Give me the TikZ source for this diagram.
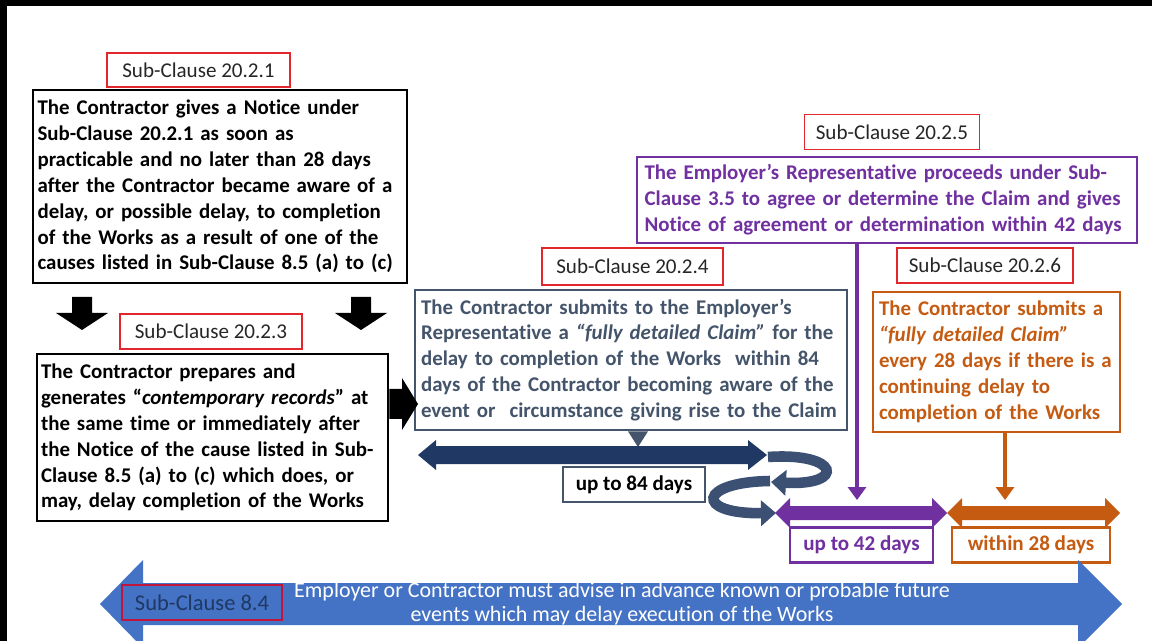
\documentclass[tikz,border=0pt]{standalone}
\usepackage{fontspec}
\setmainfont{Carlito}[Ligatures=NoCommon]
\usetikzlibrary{arrows.meta,calc}

\definecolor{slate}{HTML}{44546A}
\definecolor{navy}{HTML}{203864}
\definecolor{loopc}{HTML}{3B5072}
\definecolor{purp}{HTML}{7030A0}
\definecolor{orng}{HTML}{C55A11}
\definecolor{blu}{HTML}{4472C4}
\definecolor{redl}{HTML}{E3262B}
\definecolor{crim}{HTML}{C0143C}
\definecolor{navytext}{HTML}{1F3864}

\begin{document}
\begin{tikzpicture}[x=0.02cm, y=-0.02cm,
  every node/.style={inner sep=0pt},
  clause/.style={draw=redl, line width=1.1pt, fill=white, text=black!85,
    font=\fontsize{12}{14}\selectfont},
  body/.style={line width=1.6pt, align=left, fill=white,
    font=\bfseries\fontsize{11.9}{14.75}\selectfont},
  days/.style={line width=1.3pt, fill=white,
    font=\bfseries\fontsize{12}{14}\selectfont},
  loop/.style={draw=loopc, line width=6pt,
    -{Triangle[width=0.5cm,length=0.3cm]}},
  vline/.style={line width=2.8pt, -{Triangle[width=0.36cm,length=0.26cm]}},
]
\useasboundingbox (0,0) rectangle (1152,641);
\clip (0,0) rectangle (1152,641);
\fill[white] (0,0) rectangle (1152,641);
\fill[black] (0,0) rectangle (1152,6);
\fill[black] (0,0) rectangle (7,641);

% ---- Notice (20.2.1)
\node[clause, minimum width=3.66cm, minimum height=0.68cm] (c1) at (198.5,70) {Sub-Clause 20.2.1};
\node[body, draw=black, minimum width=7.48cm, minimum height=3.86cm, text width=7.3cm] (b1) at (220,186.5)
  {The Contractor gives a Notice under\\
   Sub-Clause 20.2.1 as soon as\\
   practicable and no later than 28 days\\
   after the Contractor became aware of a\\
   delay, or possible delay, to completion\\
   of the Works as a result of one of the\\
   causes listed in Sub-Clause 8.5 (a) to (c)};

% block arrows below the notice box
\foreach \cx in {82,361}
  \fill[black] (\cx-10,297) -- (\cx+10,297) -- (\cx+10,313) -- (\cx+26,313)
    -- (\cx,330) -- (\cx-26,313) -- (\cx-10,313) -- cycle;

% ---- Records (20.2.3)
\node[clause, minimum width=3.64cm, minimum height=0.7cm] (c3) at (211,331.5) {Sub-Clause 20.2.3};
\node[body, draw=black, minimum width=7.02cm, minimum height=3.34cm, text width=6.86cm] (b2) at (212.5,437.5)
  {The Contractor prepares and\\
   generates “\textit{contemporary records}” at\\
   the same time or immediately after\\
   the Notice of the cause listed in Sub-\\
   Clause 8.5 (a) to (c) which does, or\\
   may, delay completion of the Works};

% ---- Fully detailed claim (20.2.4)
\node[clause, minimum width=3.62cm, minimum height=0.74cm] (c4) at (632.5,266.5) {Sub-Clause 20.2.4};
\node[body, draw=slate, text=slate, minimum width=8.64cm, minimum height=2.8cm, text width=8.4cm] (b4) at (631,360)
  {The Contractor submits to the Employer’s\\
   Representative a \textit{“fully detailed Claim”} for the\\
   delay to completion of the Works\ \ within 84\\
   days of the Contractor becoming aware of the\\
   event or\ \ circumstance giving rise to the Claim};

% block arrow from the records box to the claim box
\coordinate (ra) at (418,404);
\fill[black] (b2.east |- 0,389) -- (402,389) -- (402,378) -- (ra) -- (402,430)
  -- (402,419) -- (b2.east |- 0,419) -- cycle;

% pointer under the claim box
\coordinate (tri) at (638,447);
\fill[slate] ($(b4.south -| tri)+(-10,0)$) -- ($(b4.south -| tri)+(10,0)$) -- (tri) -- cycle;

% 84-day period
\fill[navy] (418,455) -- (436,440) -- (436,446) -- (748,446) -- (748,440) -- (767,455)
  -- (748,470) -- (748,464) -- (436,464) -- (436,470) -- cycle;
\node[days, draw=slate, minimum width=2.84cm, minimum height=0.7cm] (d84) at (634,484.5) {up to 84 days};

% loop arrows
\coordinate (l1s) at (768,457);
\coordinate (l1e) at (771,482);
\coordinate (l2s) at (770,481);
\coordinate (l2e) at (776,513);
\draw[loop] (l1s) .. controls (840,452) and (846,486) .. (l1e);
\draw[loop] (l2s) .. controls (698,482) and (694,514) .. (l2e);

% ---- Determination (20.2.5)
\node[clause, minimum width=3.5cm, minimum height=0.7cm] (c5) at (892,132) {Sub-Clause 20.2.5};
\node[body, draw=purp, text=purp, minimum width=10cm, minimum height=1.72cm, text width=9.7cm] (b5) at (887,200)
  {The Employer’s Representative proceeds under Sub-\\
   Clause 3.5 to agree or determine the Claim and gives\\
   Notice of agreement or determination within 42 days};

% 42-day period
\fill[purp] (775,513) -- (790,498) -- (790,506) -- (932,506) -- (932,498) -- (947,513)
  -- (932,528) -- (932,520) -- (790,520) -- (790,528) -- cycle;
\coordinate (a42) at (857,500);
\draw[vline, purp] (b5.south -| a42) -- (a42);
\node[days, draw=purp, text=purp, minimum width=2.86cm, minimum height=0.7cm] (d42) at (861.5,545) {up to 42 days};

% ---- Interim claims (20.2.6)
\node[clause, minimum width=3.52cm, minimum height=0.7cm] (c6) at (985,265.5) {Sub-Clause 20.2.6};
\node[body, draw=orng, text=orng, minimum width=4.94cm, minimum height=2.8cm, text width=4.7cm] (b6) at (996.5,362)
  {The Contractor submits a\\
   \textit{“fully detailed Claim”}\\
   every 28 days if there is a\\
   continuing delay to\\
   completion of the Works};

% 28-day period
\fill[orng] (947,513) -- (962,498) -- (962,506) -- (1105,506) -- (1105,498) -- (1120,513)
  -- (1105,528) -- (1105,520) -- (962,520) -- (962,528) -- cycle;
\coordinate (a28) at (1005,500);
\draw[vline, orng] (b6.south -| a28) -- (a28);
\node[days, draw=orng, text=orng, minimum width=3.16cm, minimum height=0.7cm] (d28) at (1031,545) {within 28 days};

% ---- Advance warning (8.4)
\fill[blu] (100,604) -- (143,560) -- (143,583) -- (1078,583) -- (1078,560) -- (1122,604)
  -- (1078,648) -- (1078,625) -- (143,625) -- (143,648) -- cycle;
\node[draw=crim, line width=1.3pt, text=navytext, minimum width=3.2cm, minimum height=0.7cm,
  font=\fontsize{12.8}{14}\selectfont] (c8) at (202,602.5) {Sub-Clause 8.4};
\node[text=white, align=center, font=\fontsize{12.5}{13.6}\selectfont] (w8) at (622,604)
  {Employer or Contractor must advise in advance known or probable future\\
   events which may delay execution of the Works};
\end{tikzpicture}
\end{document}
